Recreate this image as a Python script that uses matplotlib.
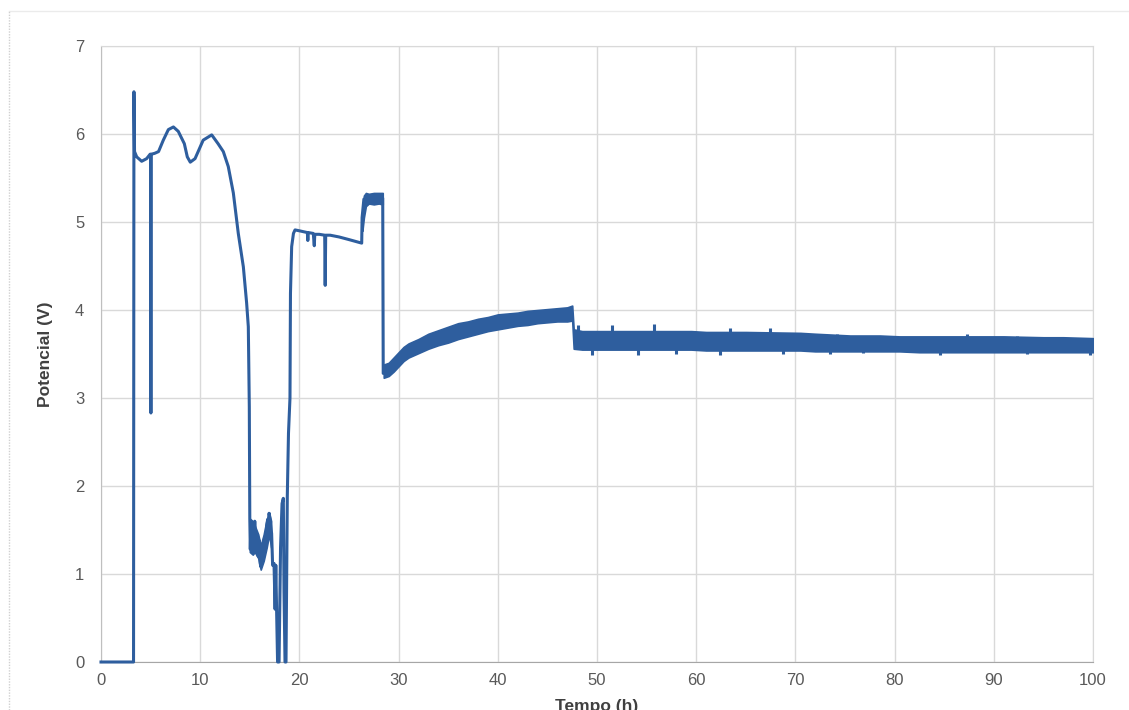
import numpy as np
import matplotlib
matplotlib.use('agg')
import matplotlib.pyplot as plt
from matplotlib.lines import Line2D

plt.rcParams['font.family'] = ['Liberation Sans', 'DejaVu Sans']

# clean part of the trace (h, V)
t_trace = [0, 3.28, 3.32, 3.38, 3.6, 4.1, 4.6, 4.95, 5.0, 5.03, 5.06, 5.4, 5.8,
           6.28, 6.79, 7.3, 7.79, 8.4, 8.7, 9.0, 9.48, 10.3, 11.16, 11.8, 12.33,
           12.83, 13.34, 13.84, 14.35, 14.68, 14.85, 14.95, 15.0,
           15.05, 15.12, 15.2, 15.3, 15.4, 15.5, 15.6, 15.75, 15.85, 15.95, 16.05,
           16.13, 16.2, 16.3, 16.37, 16.5, 16.6, 16.7, 16.8, 16.9, 16.94, 17.05,
           17.2, 17.3, 17.44, 17.55, 17.62, 17.7, 17.8, 17.95, 18.1, 18.25, 18.38,
           18.45, 18.55, 18.65, 18.78, 18.9, 19.05, 19.1, 19.22, 19.4, 19.56,
           20.0, 20.8, 20.85, 20.9, 21.4, 21.5, 21.55, 22.0, 22.55, 22.6, 22.65,
           23.1, 24.0, 25.0, 26.28, 26.32, 26.5, 27.0, 27.5, 28.0, 28.4, 28.45, 28.6]
v_trace = [0, 0, 6.48, 5.80, 5.74, 5.69, 5.72, 5.77, 5.77, 2.83, 5.77, 5.78, 5.80,
           5.93, 6.05, 6.08, 6.03, 5.89, 5.74, 5.68, 5.72, 5.93, 5.99, 5.89, 5.80,
           5.63, 5.33, 4.87, 4.49, 4.08, 3.81, 2.9, 1.63,
           1.28, 1.60, 1.30, 1.55, 1.25, 1.60, 1.30, 1.45, 1.20, 1.38, 1.12,
           1.08, 1.30, 1.22, 1.35, 1.42, 1.30, 1.55, 1.62, 1.45, 1.69, 1.60,
           1.46, 1.10, 1.12, 0.60, 1.10, 0.60, 0, 0, 1.30, 1.80, 1.86,
           0.80, 0, 0, 1.88, 2.60, 3.00, 4.19, 4.72, 4.87, 4.91,
           4.90, 4.88, 4.79, 4.88, 4.87, 4.73, 4.86, 4.86, 4.85, 4.28, 4.85,
           4.85, 4.83, 4.80, 4.76, 5.05, 5.26, 5.27, 5.26, 5.27, 5.27, 3.28, 3.28]

# noisy stretch around 15-17 h (envelope)
t_band0 = [15.0, 15.3, 15.5, 15.85, 16.1, 16.4, 16.7, 16.95, 17.15]
lo_band0 = [1.25, 1.22, 1.25, 1.18, 1.05, 1.15, 1.30, 1.45, 1.30]
hi_band0 = [1.63, 1.60, 1.55, 1.45, 1.32, 1.45, 1.62, 1.70, 1.60]

# noisy plateau before the drop (envelope)
t_band1 = [26.35, 26.5, 26.7, 27.0, 27.5, 28.0, 28.4]
lo_band1 = [4.90, 5.05, 5.18, 5.21, 5.20, 5.21, 5.20]
hi_band1 = [5.10, 5.30, 5.33, 5.32, 5.33, 5.33, 5.33]

# noisy part after 28.5 h (envelope)
t_band2 = [28.5, 29.0, 29.5, 30.0, 30.5, 31, 32, 33, 34, 35, 36, 37, 38, 39, 40,
           41, 42, 43, 44, 45, 46, 47, 47.5,
           47.65, 48.5, 50.5, 52.5, 55, 56.5, 59.5, 61, 65, 70.5, 72, 75.5, 78.5,
           80.5, 82.5, 86, 89, 91, 95, 97, 100]
lo_band2 = [3.23, 3.25, 3.30, 3.36, 3.42, 3.46, 3.51, 3.56, 3.60, 3.63, 3.67, 3.70,
            3.73, 3.76, 3.78, 3.80, 3.82, 3.83, 3.85, 3.86, 3.87, 3.87, 3.88,
            3.56, 3.55, 3.55, 3.55, 3.55, 3.55, 3.55, 3.54, 3.54, 3.54, 3.53, 3.53,
            3.53, 3.53, 3.52, 3.52, 3.52, 3.52, 3.52, 3.52, 3.52]
hi_band2 = [3.38, 3.40, 3.46, 3.52, 3.58, 3.62, 3.67, 3.73, 3.77, 3.81, 3.85, 3.87,
            3.90, 3.92, 3.95, 3.96, 3.97, 3.99, 4.00, 4.01, 4.02, 4.03, 4.05,
            3.78, 3.76, 3.76, 3.76, 3.76, 3.76, 3.76, 3.75, 3.75, 3.74, 3.73, 3.71,
            3.71, 3.70, 3.70, 3.70, 3.70, 3.70, 3.69, 3.69, 3.68]

# single spikes sticking out of the noise band
spike_t = [48.1, 49.5, 51.5, 54.1, 55.7, 58.0, 62.4, 63.4, 67.4, 68.8, 73.5,
           74.2, 76.8, 84.6, 87.3, 92.3, 93.3, 99.7]
spike_lo = [3.70, 3.49, 3.70, 3.49, 3.70, 3.50, 3.49, 3.70, 3.70, 3.50, 3.50,
            3.65, 3.51, 3.49, 3.65, 3.65, 3.50, 3.49]
spike_hi = [3.83, 3.60, 3.83, 3.60, 3.84, 3.60, 3.60, 3.80, 3.80, 3.60, 3.60,
            3.73, 3.60, 3.60, 3.73, 3.71, 3.60, 3.60]

line_color = '#2E5E9E'

fig = plt.figure(figsize=(11.29, 7.10), dpi=100)
ax = fig.add_axes([101/1129, 48/710, (1093-101)/1129, (662-46)/710])

ax.plot(t_trace, v_trace, color=line_color, lw=2.2, solid_joinstyle='round', clip_on=False, zorder=3)
for tb, lo, hi in [(t_band0, lo_band0, hi_band0), (t_band1, lo_band1, hi_band1),
                   (t_band2, lo_band2, hi_band2)]:
    ax.fill_between(tb, lo, hi, color=line_color, lw=1.2, edgecolor=line_color, zorder=3)
ax.vlines(spike_t, spike_lo, spike_hi, color=line_color, lw=2.2, zorder=3)

ax.set_xlim(0, 100)
ax.set_ylim(0, 7)
ax.set_xticks(np.arange(0, 101, 10))
ax.set_yticks(np.arange(0, 8, 1))
ax.grid(True, color='#D9D9D9', lw=1)
ax.set_axisbelow(True)
ax.tick_params(length=0, labelsize=12, labelcolor='#595959')
ax.tick_params(axis='x', pad=8)
ax.tick_params(axis='y', pad=12)
for s in ['top', 'right']:
    ax.spines[s].set_color('#D9D9D9')
ax.spines['left'].set_color('#BFBFBF')
ax.spines['bottom'].set_color('#A6A6A6')

ax.set_xlabel('Tempo (h)', fontsize=12.5, fontweight='bold', color='#404040', labelpad=8)
ax.set_ylabel('Potencial (V)', fontsize=12.5, fontweight='bold', color='#404040', labelpad=16)

# frame of the screenshot
fig.add_artist(Line2D([9/1129, 1], [699/710, 699/710], color='#EBEBEB', lw=1))
fig.add_artist(Line2D([9/1129, 9/1129], [0, 699/710], color='#D0D0D0', lw=1, ls=(0, (1, 1))))

fig.savefig('out.png', dpi=100)
